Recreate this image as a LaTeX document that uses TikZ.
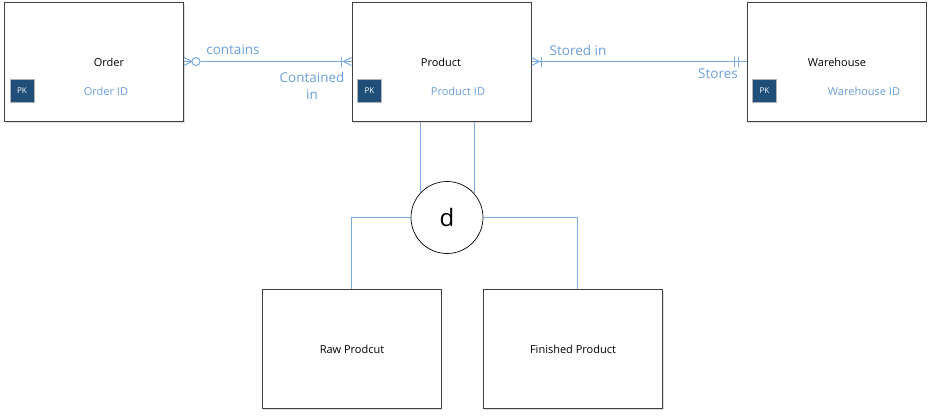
\documentclass[tikz,border=0pt]{standalone}
\usepackage{fontspec}
\setmainfont{Open Sans}
\usetikzlibrary{calc,shadows}
\definecolor{relblue}{HTML}{7AABE2}
\definecolor{lblblue}{HTML}{6A9FDA}
\definecolor{pkfill}{HTML}{1F4E79}
\definecolor{boxline}{HTML}{404040}
\begin{document}
\begin{tikzpicture}[x=1pt,y=-1pt,
  entity/.style={draw=boxline,line width=1pt,fill=white,minimum width=179pt,minimum height=119pt,inner sep=0pt,
    drop shadow={shadow xshift=1pt,shadow yshift=-1.5pt,opacity=0.25}},
  ttl/.style={font=\fontsize{11}{13}\selectfont,text=black,inner sep=0pt},
  attr/.style={font=\fontsize{11}{13}\selectfont,text=lblblue,inner sep=0pt},
  pk/.style={draw=gray!60,fill=pkfill,minimum width=24pt,minimum height=23pt,inner sep=0pt,text=white,font=\fontsize{8}{9}\selectfont},
  lbl/.style={font=\fontsize{13.5}{17}\selectfont,text=lblblue,inner sep=0pt},
  rel/.style={draw=relblue,line width=1pt},
  isa/.style={draw=relblue,line width=1pt}]
\useasboundingbox (0,0) rectangle (932,416);
% entities
\node[entity] (order) at (94,61.5) {};
\node[entity] (product) at (441.5,61.5) {};
\node[entity] (warehouse) at (836.5,61.5) {};
\node[entity] (raw) at (351.5,348.5) {};
\node[entity] (fin) at (573,348.5) {};
% texts
\node[ttl] (ordert) at (109,62) {Order};
\node[pk] (orderpk) at (22,90.5) {PK};
\node[attr] (orderid) at (106,91) {Order ID};
\node[ttl] (productt) at (441,62) {Product};
\node[pk] (productpk) at (369.5,90.5) {PK};
\node[attr] (productid) at (458,91) {Product ID};
\node[ttl] (warehouset) at (837,62) {Warehouse};
\node[pk] (warehousepk) at (764.5,90.5) {PK};
\node[attr] (warehouseid) at (864,91) {Warehouse ID};
\node[ttl] (rawt) at (352,349) {Raw Prodcut};
\node[ttl] (fint) at (573,349) {Finished Product};
% relationship Order - Product
\draw[rel] ($(order.east)+(16,0)$) -- (product.west);
\draw[rel] (order.east) -- ++(8,0);
\draw[rel] ($(order.east)+(8,0)$) -- ($(order.east)+(0,-4)$);
\draw[rel] ($(order.east)+(8,0)$) -- ($(order.east)+(0,4)$);
\draw[rel,fill=white] ($(order.east)+(12,0)$) circle[radius=4];
\draw[rel] ($(product.west)+(-8,0)$) -- ($(product.west)+(0,-4)$);
\draw[rel] ($(product.west)+(-8,0)$) -- ($(product.west)+(0,4)$);
\draw[rel] ($(product.west)+(-10,-5)$) -- ($(product.west)+(-10,5)$);
\node[lbl] (contains) at (233,50) {contains};
\node[lbl,align=center] (containedin) at (312,85.5) {Contained\\in};
% relationship Product - Warehouse
\draw[rel] (product.east) -- (warehouse.west);
\draw[rel] ($(product.east)+(8,0)$) -- ($(product.east)+(0,-4)$);
\draw[rel] ($(product.east)+(8,0)$) -- ($(product.east)+(0,4)$);
\draw[rel] ($(product.east)+(10,-5)$) -- ($(product.east)+(10,5)$);
\draw[rel] ($(warehouse.west)+(-8,-5)$) -- ($(warehouse.west)+(-8,5)$);
\draw[rel] ($(warehouse.west)+(-12,-5)$) -- ($(warehouse.west)+(-12,5)$);
\node[lbl] (storedin) at (578,50) {Stored in};
\node[lbl] (stores) at (718,74) {Stores};
% disjoint specialization
\node[draw=black,line width=0.7pt,circle,minimum size=72pt,inner sep=0pt,fill=white,font=\fontsize{24}{26}\selectfont] (d) at (447,217.5) {d};
\draw[isa] (d.136 |- product.south) -- (d.136);
\draw[isa] (d.42 |- product.south) -- (d.42);
\draw[isa] (d.west) -| (raw.north);
\draw[isa] (d.east) -| ([xshift=4pt]fin.north);
\end{tikzpicture}
\end{document}
